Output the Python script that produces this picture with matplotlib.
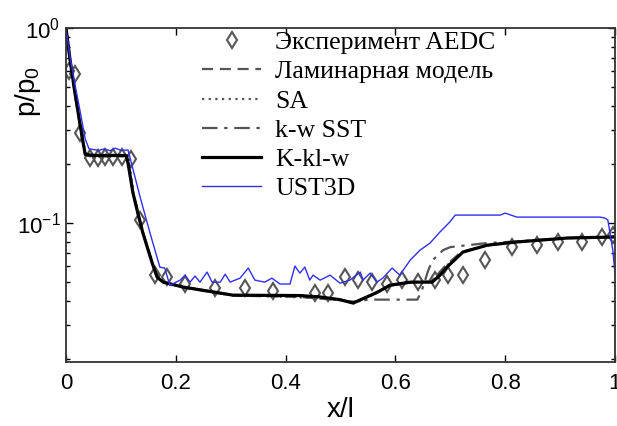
import numpy as np
import matplotlib
matplotlib.use("Agg")
import matplotlib.pyplot as plt
from matplotlib.ticker import LogLocator, NullFormatter, FixedLocator

plt.rcParams['font.family'] = ['Liberation Sans', 'DejaVu Sans']
plt.rcParams['mathtext.default'] = 'regular'

# experiment AEDC
exp_x = [0.006, 0.016, 0.026, 0.044, 0.058, 0.071, 0.086, 0.102, 0.118, 0.135,
         0.162, 0.184, 0.217, 0.271, 0.326, 0.377, 0.454, 0.477, 0.508, 0.532,
         0.557, 0.585, 0.612, 0.641, 0.672, 0.696, 0.723, 0.763, 0.812, 0.858,
         0.896, 0.94, 0.976, 0.996]
exp_p = [0.60, 0.58, 0.29, 0.216, 0.216, 0.218, 0.218, 0.218, 0.212, 0.104,
         0.054, 0.053, 0.049, 0.0464, 0.0464, 0.0448, 0.0437, 0.044, 0.0528, 0.051,
         0.0497, 0.049, 0.051, 0.0497, 0.051, 0.054, 0.054, 0.0646, 0.0753, 0.077,
         0.080, 0.080, 0.0848, 0.0865]

# K-kl-w
kkl_x = [0.0, 0.007, 0.016, 0.029, 0.035, 0.05, 0.08, 0.11, 0.113, 0.122, 0.131,
         0.14, 0.157, 0.166, 0.177, 0.213, 0.304, 0.426, 0.463, 0.499, 0.523,
         0.548, 0.566, 0.59, 0.627, 0.667, 0.681, 0.694, 0.723, 0.767, 0.821,
         0.913, 0.996, 1.0]
kkl_p = [1.0, 0.70, 0.47, 0.28, 0.225, 0.222, 0.222, 0.222, 0.203, 0.1425, 0.112,
         0.089, 0.0624, 0.0528, 0.0498, 0.047, 0.0427, 0.0425, 0.0418, 0.0405, 0.0389,
         0.0418, 0.044, 0.048, 0.0498, 0.0498, 0.054, 0.0595, 0.071, 0.077, 0.080,
         0.0838, 0.0848, 0.085]

# laminar model
lam_x = [0.0, 0.007, 0.016, 0.029, 0.035, 0.05, 0.08, 0.112, 0.122, 0.131, 0.14,
         0.157, 0.17, 0.18, 0.213, 0.304, 0.426, 0.5, 0.525, 0.55, 0.59, 0.63,
         0.665, 0.69, 0.72, 0.77, 0.82, 0.91, 1.0]
lam_p = [1.0, 0.69, 0.46, 0.275, 0.222, 0.219, 0.22, 0.22, 0.145, 0.114, 0.09,
         0.063, 0.052, 0.0495, 0.0468, 0.0425, 0.0418, 0.0402, 0.0392, 0.042, 0.0478, 0.0496,
         0.0502, 0.06, 0.0712, 0.0772, 0.0802, 0.0836, 0.0852]

# SA
sa_x = [0.0, 0.007, 0.016, 0.029, 0.035, 0.05, 0.08, 0.114, 0.122, 0.131, 0.14,
        0.157, 0.168, 0.18, 0.213, 0.304, 0.426, 0.5, 0.525, 0.55, 0.59, 0.63,
        0.665, 0.69, 0.72, 0.77, 0.82, 0.91, 1.0]
sa_p = [1.0, 0.71, 0.48, 0.285, 0.228, 0.224, 0.224, 0.222, 0.146, 0.113, 0.09,
        0.0628, 0.053, 0.05, 0.0472, 0.0428, 0.0416, 0.0404, 0.0388, 0.0416, 0.0482, 0.05,
        0.0499, 0.0592, 0.0708, 0.077, 0.08, 0.0838, 0.085]

# k-w SST
sst_x = [0.0, 0.007, 0.016, 0.029, 0.035, 0.05, 0.08, 0.11, 0.113, 0.122, 0.131,
         0.14, 0.157, 0.166, 0.177, 0.213, 0.304, 0.426, 0.463, 0.50, 0.53, 0.55,
         0.64, 0.648, 0.66, 0.668, 0.687, 0.70, 0.767, 0.82, 0.91, 1.0]
sst_p = [1.0, 0.70, 0.47, 0.28, 0.225, 0.222, 0.222, 0.222, 0.203, 0.1425, 0.112,
         0.089, 0.0624, 0.0528, 0.0498, 0.047, 0.0427, 0.0425, 0.0418, 0.040, 0.0395, 0.0405,
         0.0405, 0.045, 0.0574, 0.0646, 0.0727, 0.0753, 0.079, 0.0805, 0.0838, 0.085]

# UST3D
ust_x = [0.0, 0.007, 0.016, 0.026, 0.035, 0.042, 0.06, 0.07, 0.08, 0.09, 0.1, 0.113,
         0.135, 0.153, 0.171, 0.18, 0.189, 0.208, 0.217, 0.226, 0.235, 0.244, 0.257,
         0.266, 0.281, 0.29, 0.299, 0.317, 0.332, 0.344, 0.362, 0.375, 0.39, 0.408,
         0.417, 0.426, 0.435, 0.444, 0.45, 0.463, 0.481, 0.499, 0.517, 0.536, 0.541,
         0.554, 0.566, 0.577, 0.594, 0.608, 0.627, 0.645, 0.663, 0.681, 0.699, 0.709,
         0.718, 0.791, 0.80, 0.821, 0.973, 0.982, 0.987, 0.996, 1.0]
ust_p = [1.0, 0.72, 0.52, 0.37, 0.27, 0.24, 0.236, 0.24, 0.235, 0.242, 0.236, 0.237,
         0.136, 0.089, 0.0594, 0.0588, 0.048, 0.051, 0.0541, 0.0498, 0.0535, 0.0498, 0.0561,
         0.0498, 0.0498, 0.0547, 0.0498, 0.0522, 0.0588, 0.051, 0.0498, 0.0522, 0.0487, 0.0487,
         0.0602, 0.0554, 0.0595, 0.051, 0.0541, 0.051, 0.0541, 0.0492, 0.051, 0.0561, 0.051,
         0.0554, 0.0498, 0.0522, 0.0588, 0.0541, 0.0646, 0.0727, 0.0789, 0.0899, 0.1012, 0.1099,
         0.1099, 0.1099, 0.1125, 0.1073, 0.1073, 0.106, 0.1036, 0.0727, 0.055]

labels = ['Эксперимент AEDC', 'Ламинарная модель', 'SA', 'k-w SST', 'K-kl-w', 'UST3D']

fig = plt.figure(figsize=(6.17, 4.26), dpi=100)
ax = fig.add_axes([66 / 617, 1 - 362 / 426, 549 / 617, 334 / 426])

gray = '#555555'
ax.plot(exp_x, exp_p, linestyle='none', marker='d', markersize=8.5, mfc='none',
        mec=gray, mew=1.5, label=labels[0])
ax.plot(lam_x, lam_p, color=gray, ls=(0, (5, 3)), lw=1.6, label=labels[1])
ax.plot(sa_x, sa_p, color=gray, ls=(0, (1, 2)), lw=1.6, label=labels[2])
ax.plot(sst_x, sst_p, color=gray, ls=(0, (7, 3, 1.5, 3)), lw=1.6, label=labels[3])
ax.plot(kkl_x, kkl_p, color='black', lw=2.3, label=labels[4])
ax.plot(ust_x, ust_p, color='#3030f0', lw=1.0, label=labels[5])

ax.set_yscale('log')
ax.set_xlim(0, 1)
ax.set_ylim(0.0194, 1.0)
ax.xaxis.set_major_locator(FixedLocator([0, 0.2, 0.4, 0.6, 0.8, 1.0]))
ax.set_xticklabels(['0', '0.2', '0.4', '0.6', '0.8', '1'])
ax.yaxis.set_major_locator(LogLocator(base=10))
ax.yaxis.set_minor_locator(LogLocator(base=10, subs=np.arange(2, 10)))
ax.yaxis.set_minor_formatter(NullFormatter())
ax.tick_params(which='both', direction='in', top=True, right=True, labelsize=16)
ax.tick_params(axis='x', pad=8)
ax.tick_params(axis='y', pad=4)
ax.tick_params(which='major', length=5, width=1)
ax.tick_params(which='minor', length=3, width=1)
for s in ax.spines.values():
    s.set_linewidth(1.3)
    s.set_color('#333333')

ax.set_xlabel('x/l', fontsize=20, labelpad=2)
ax.set_ylabel('p/p$_0$', fontsize=20)
ax.yaxis.set_label_coords(-0.042, 0.81)

leg = ax.legend(loc='upper left', bbox_to_anchor=(0.248, 0.99), frameon=False,
                numpoints=1, handlelength=2.3, handletextpad=0.55, labelspacing=0.24,
                borderpad=0, borderaxespad=0,
                prop={'family': 'Liberation Serif', 'size': 18.5})

fig.savefig('out.png', dpi=100)
